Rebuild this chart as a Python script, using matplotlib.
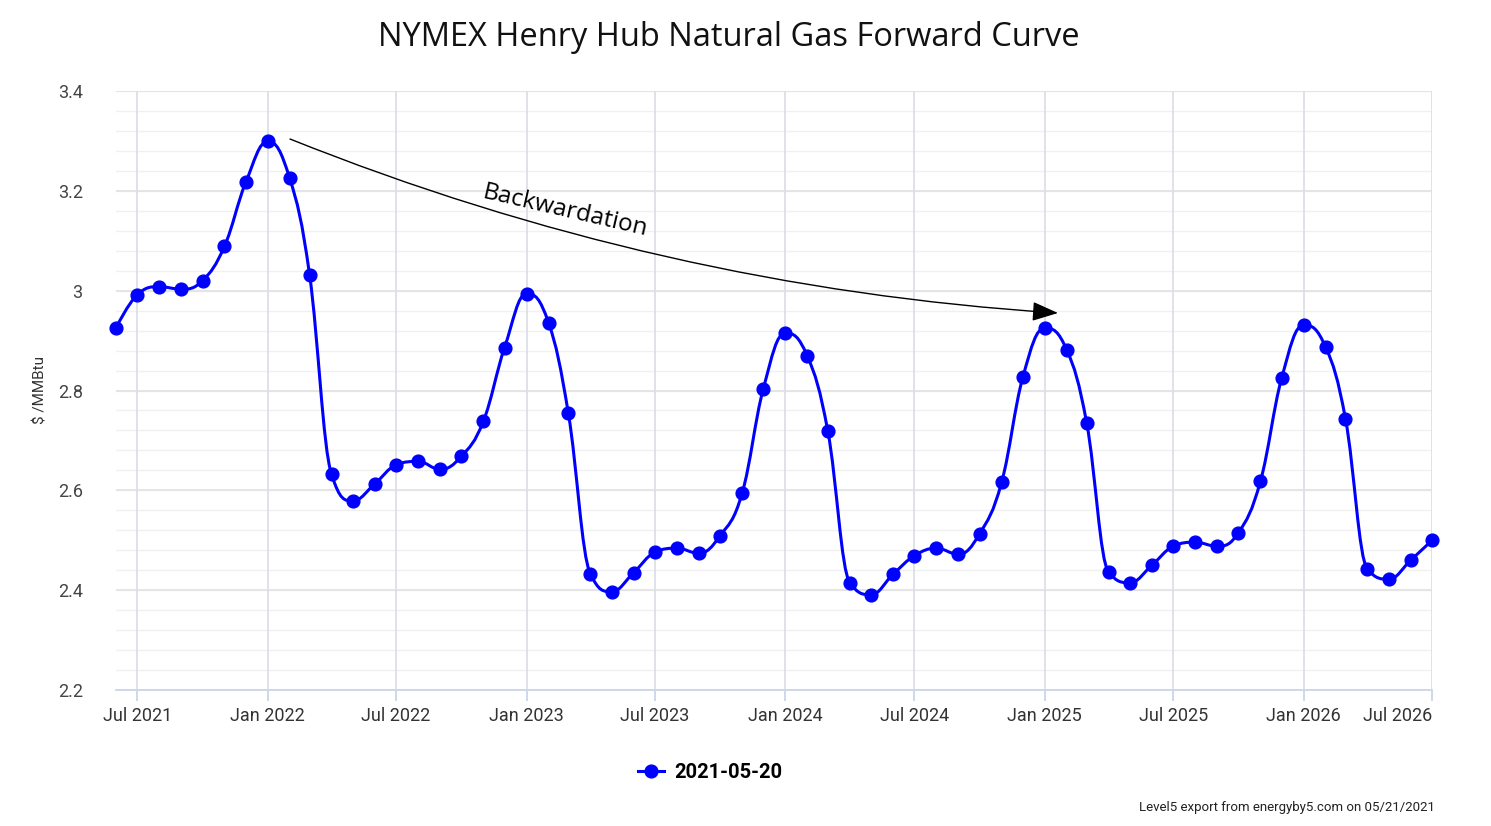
import datetime as dt
import matplotlib
matplotlib.use("Agg")
import matplotlib.pyplot as plt
import matplotlib.dates as mdates
from matplotlib.path import Path
from matplotlib.patches import PathPatch
from matplotlib.lines import Line2D

# forward curve, monthly contracts Jun 2021 .. Jul 2026
start_year, start_month = 2021, 6
prices = [2.926, 2.992, 3.008, 3.003, 3.020, 3.089, 3.217,
          3.299, 3.225, 3.032, 2.632, 2.579, 2.613, 2.651, 2.658, 2.642, 2.668, 2.738, 2.886,
          2.994, 2.936, 2.754, 2.433, 2.397, 2.435, 2.476, 2.484, 2.474, 2.509, 2.594, 2.804,
          2.915, 2.869, 2.718, 2.415, 2.391, 2.432, 2.469, 2.484, 2.472, 2.513, 2.616, 2.827,
          2.925, 2.881, 2.735, 2.436, 2.415, 2.450, 2.488, 2.496, 2.488, 2.515, 2.618, 2.825,
          2.931, 2.887, 2.743, 2.442, 2.422, 2.460, 2.500]
series_name = "2021-05-20"
tick_labels = ["Jul 2021", "Jan 2022", "Jul 2022", "Jan 2023", "Jul 2023", "Jan 2024",
               "Jul 2024", "Jan 2025", "Jul 2025", "Jan 2026", "Jul 2026"]
y_ticks = [2.2, 2.4, 2.6, 2.8, 3.0, 3.2, 3.4]
y_tick_labels = ["2.2", "2.4", "2.6", "2.8", "3", "3.2", "3.4"]

months = []
y, m = start_year, start_month
for _ in prices:
    months.append(dt.date(y, m, 1))
    m += 1
    if m > 12:
        m = 1
        y += 1
xs = mdates.date2num(months)

FONT = ["Roboto", "DejaVu Sans"]
BLUE = "#0000ff"


def spline_path(px, py, smoothing=1.5):
    # highcharts style spline control points
    n = len(px)
    lc = [None] * n
    rc = [None] * n
    for i in range(1, n - 1):
        lx, ly = px[i - 1], py[i - 1]
        nx, ny = px[i + 1], py[i + 1]
        x0, y0 = px[i], py[i]
        d = smoothing + 1
        lcx = (smoothing * x0 + lx) / d
        lcy = (smoothing * y0 + ly) / d
        rcx = (smoothing * x0 + nx) / d
        rcy = (smoothing * y0 + ny) / d
        if rcx != lcx:
            corr = ((rcy - lcy) * (rcx - x0)) / (rcx - lcx) + y0 - rcy
            lcy += corr
            rcy += corr
        if lcy > ly and lcy > y0:
            lcy = max(ly, y0)
            rcy = 2 * y0 - lcy
        elif lcy < ly and lcy < y0:
            lcy = min(ly, y0)
            rcy = 2 * y0 - lcy
        if rcy > ny and rcy > y0:
            rcy = max(ny, y0)
            lcy = 2 * y0 - rcy
        elif rcy < ny and rcy < y0:
            rcy = min(ny, y0)
            lcy = 2 * y0 - rcy
        lc[i] = (lcx, lcy)
        rc[i] = (rcx, rcy)
    verts = [(px[0], py[0])]
    codes = [Path.MOVETO]
    for i in range(1, n):
        a = rc[i - 1] if rc[i - 1] else (px[i - 1], py[i - 1])
        b = lc[i] if lc[i] else (px[i], py[i])
        verts += [a, b, (px[i], py[i])]
        codes += [Path.CURVE4] * 3
    return Path(verts, codes)


fig = plt.figure(figsize=(14.91, 8.26), dpi=100)
ax = fig.add_axes([116 / 1491, 1 - 690 / 826, (1432 - 116) / 1491, (690 - 91) / 826])

ax.set_xlim(xs[0], xs[-1])
ax.set_ylim(2.2, 3.4)

# grid
for v in [2.2 + 0.04 * k for k in range(31)]:
    ax.axhline(v, color="#f0f0f0", lw=1, zorder=0)
for v in y_ticks:
    ax.axhline(v, color="#e3e3e3", lw=1.3, zorder=0)
tick_dates = [d for d in months if d.month in (1, 7)]
tick_x = mdates.date2num(tick_dates)
for v in tick_x:
    ax.axvline(v, color="#dcdfe6", lw=1.3, zorder=0)

ax.add_patch(PathPatch(spline_path(list(xs), prices), fill=False, edgecolor=BLUE, lw=2.2, zorder=3))
ax.plot(xs, prices, linestyle="none", marker="o", ms=9.2, color=BLUE, zorder=4, clip_on=False)

for s in ["top", "right", "left"]:
    ax.spines[s].set_visible(False)
ax.spines["bottom"].set_color("#ccd6eb")
ax.spines["bottom"].set_linewidth(1.3)

ax.set_xticks(tick_x)
ax.set_xticklabels(tick_labels, fontsize=13, color="#333333", family=FONT)
ax.tick_params(axis="x", length=8, color="#ccd6eb", width=1.3, pad=4)
ax.get_xticklabels()[-1].set_horizontalalignment("right")
ax.get_xticklabels()[-1].set_x(tick_x[-1])

ax.set_yticks(y_ticks)
ax.set_yticklabels(y_tick_labels, fontsize=13, color="#444444", family=FONT)
ax.tick_params(axis="y", length=0, pad=24)
ax.set_ylabel("$ /MMBtu", fontsize=11, color="#333333", family=FONT)
ax.yaxis.set_label_coords((47 - 116) / (1432 - 116), 0.5)

fig.text(729 / 1491, 1 - 38 / 826, "NYMEX Henry Hub Natural Gas Forward Curve",
         ha="center", va="center", fontsize=23.5, family=["Open Sans", "DejaVu Sans"], color="#111111")

# annotation arrow
ax.annotate("", xy=(1058 / 1491, 1 - 313 / 826), xycoords="figure fraction",
            xytext=(290 / 1491, 1 - 139 / 826), textcoords="figure fraction",
            arrowprops=dict(arrowstyle="-|>,head_length=1.6,head_width=0.6", color="black",
                            lw=1, connectionstyle="arc3,rad=0.08", shrinkA=0, shrinkB=0))
fig.text(565 / 1491, 1 - 211 / 826, "Backwardation", rotation=-13, ha="center", va="center",
         fontsize=17.5, family=["Open Sans", "DejaVu Sans"], color="black")

# legend
handle = Line2D([], [], color=BLUE, lw=2.2, marker="o", ms=9.2)
leg = fig.legend([handle], [series_name], loc="center", bbox_to_anchor=(710 / 1491, 1 - 773 / 826),
                 frameon=False, handlelength=1.3, handletextpad=0.5,
                 prop={"family": FONT, "size": 14.5, "weight": "bold"})

fig.text(1435 / 1491, 1 - 808 / 826, "Level5 export from energyby5.com on 05/21/2021",
         ha="right", va="center", fontsize=9.5, family=FONT, color="#222222")

fig.savefig("out.png", dpi=100)
